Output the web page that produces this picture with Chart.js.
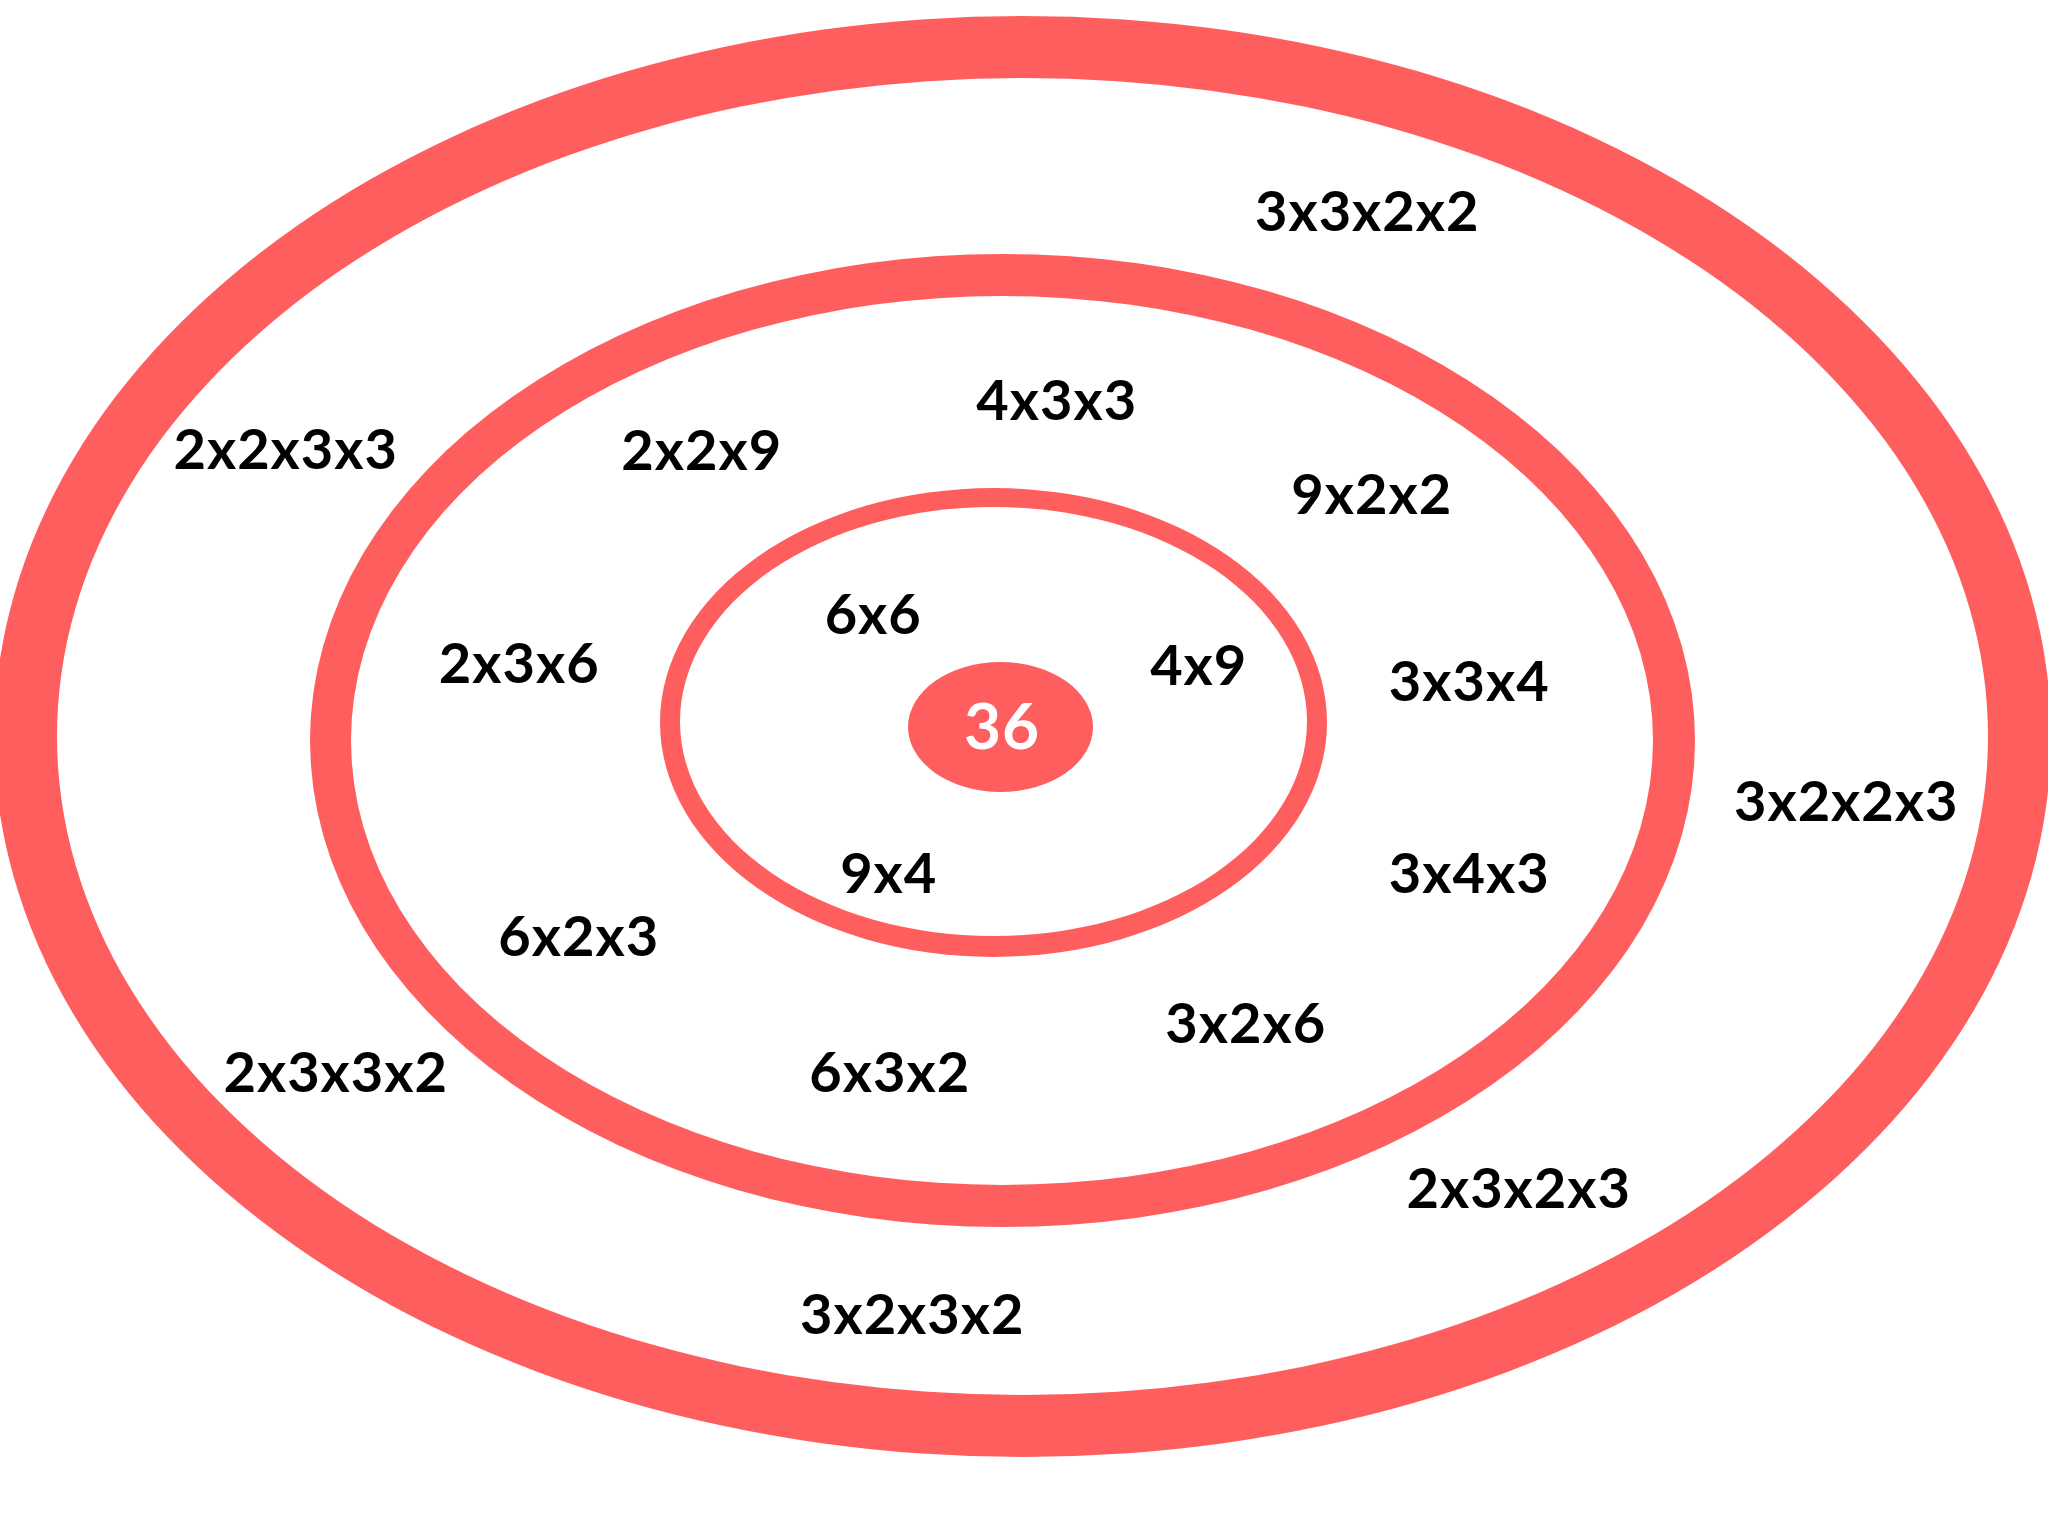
<!DOCTYPE html>
<html>
<head>
<meta charset="utf-8">
<script src="https://cdn.jsdelivr.net/npm/chart.js@4/dist/chart.umd.min.js"></script>
<style>
  html, body { margin: 0; padding: 0; background: #ffffff; }
  #wrap { width: 2048px; height: 1536px; }
</style>
</head>
<body>
<div id="wrap"><canvas id="c" width="2048" height="1536"></canvas></div>
<script>
// ---- Data ----
// Ellipse shapes (drawn in order): centre x/y, radius x/y in chart units
const shapeNames = ['outerRing', 'outerHole', 'middleRing', 'middleHole', 'innerRing', 'innerHole', 'centre'];
const shapeCx = [1022.5, 1022.5, 1002.5, 1002, 993.5, 993.5, 1000.5];
const shapeCy = [736.5, 736.5, 740.5, 740.5, 722.5, 721.5, 727];
const shapeRx = [1028.5, 965.5, 692.5, 651, 333.5, 313.5, 92.5];
const shapeRy = [720.5, 658.5, 486.5, 444.5, 234.5, 214.5, 65];
const shapeFill = [true, false, true, false, true, false, true];

// Factor labels
const factorLabels = ['3x3x2x2', '2x2x3x3', '4x3x3', '2x2x9', '9x2x2', '6x6', '4x9', '2x3x6', '3x3x4',
  '3x2x2x3', '9x4', '3x4x3', '6x2x3', '3x2x6', '2x3x3x2', '6x3x2', '2x3x2x3', '3x2x3x2'];
const factorX = [1366, 285, 1055, 701, 1371, 873, 1197, 519, 1469,
  1845, 889, 1468, 578, 1245, 335, 889, 1518, 911];
const factorY = [211, 449, 400, 450, 494, 614, 665, 663, 681,
  801, 873, 873, 936, 1023, 1072, 1072, 1188, 1314];

// Centre number
const centreLabel = ['36'];
const centreX = [1002];
const centreY = [725];

const RED = '#FF5E5E';

const ellipsePlugin = {
  id: 'ellipses',
  beforeDatasetsDraw(chart) {
    const ctx = chart.ctx;
    const xs = chart.scales.x, ys = chart.scales.y;
    ctx.save();
    for (let i = 0; i < shapeNames.length; i++) {
      const px = xs.getPixelForValue(shapeCx[i]);
      const py = ys.getPixelForValue(shapeCy[i]);
      const rx = Math.abs(xs.getPixelForValue(shapeCx[i] + shapeRx[i]) - px);
      const ry = Math.abs(ys.getPixelForValue(shapeCy[i] + shapeRy[i]) - py);
      ctx.beginPath();
      ctx.ellipse(px, py, rx, ry, 0, 0, Math.PI * 2);
      ctx.fillStyle = shapeFill[i] ? RED : '#ffffff';
      ctx.fill();
    }
    ctx.restore();
  }
};

const textPlugin = {
  id: 'texts',
  afterDatasetsDraw(chart) {
    const ctx = chart.ctx;
    ctx.save();
    chart.data.datasets.forEach((ds, di) => {
      const meta = chart.getDatasetMeta(di);
      ctx.font = ds.textFont;
      ctx.fillStyle = ds.textColor;
      ctx.letterSpacing = ds.textSpacing;
      ctx.textAlign = 'left';
      ctx.textBaseline = 'alphabetic';
      const asc = ctx.measureText('0').actualBoundingBoxAscent;
      meta.data.forEach((el, i) => {
        const m = ctx.measureText(ds.texts[i]);
        const w = m.actualBoundingBoxRight + m.actualBoundingBoxLeft;
        ctx.fillText(ds.texts[i], el.x - w / 2 + m.actualBoundingBoxLeft, el.y + asc / 2);
      });
    });
    ctx.restore();
  }
};

new Chart(document.getElementById('c'), {
  type: 'scatter',
  data: {
    datasets: [
      {
        label: 'factors',
        data: factorX.map((x, i) => ({ x: x, y: factorY[i] })),
        texts: factorLabels,
        textFont: 'bold 56px Lato',
        textSpacing: '1px',
        textColor: '#000000',
        pointRadius: 0,
        pointHoverRadius: 0
      },
      {
        label: 'number',
        data: centreX.map((x, i) => ({ x: x, y: centreY[i] })),
        texts: centreLabel,
        textFont: 'bold 64px Lato',
        textSpacing: '1px',
        textColor: '#ffffff',
        pointRadius: 0,
        pointHoverRadius: 0
      }
    ]
  },
  options: {
    responsive: false,
    devicePixelRatio: 1,
    animation: false,
    events: [],
    layout: { padding: 0 },
    plugins: { legend: { display: false }, tooltip: { enabled: false }, title: { display: false } },
    scales: {
      x: { type: 'linear', min: 0, max: 2048, display: false },
      y: { type: 'linear', min: 0, max: 1536, reverse: true, display: false }
    }
  },
  plugins: [ellipsePlugin, textPlugin]
});
</script>
</body>
</html>
